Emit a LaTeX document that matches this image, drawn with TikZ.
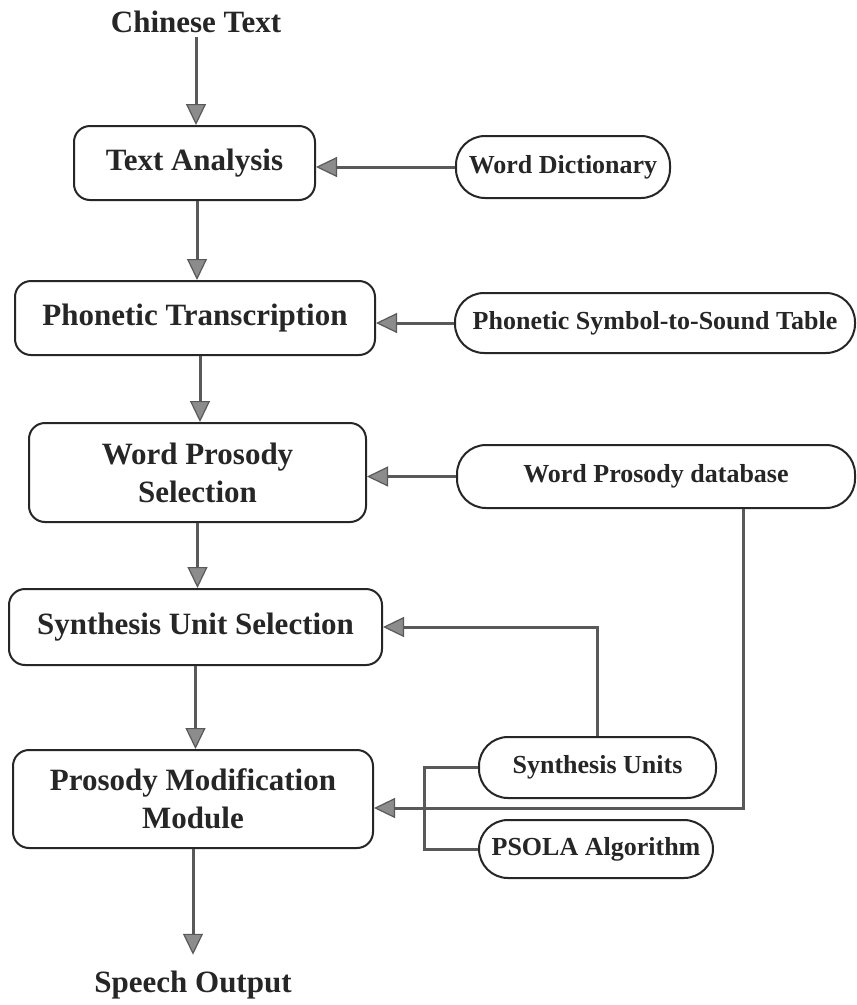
\documentclass[tikz,border=0pt]{standalone}
\usepackage{fontspec}
\setmainfont{Liberation Serif}
\usetikzlibrary{arrows.meta,calc}
\begin{document}
\begin{tikzpicture}[x=1pt,y=-1pt,
  box/.style={draw=black!85,line width=2pt,rounded corners=16pt,inner sep=0pt,
    font=\fontsize{31}{38}\selectfont\bfseries,align=center,text=black!85},
  pill/.style={draw=black!85,line width=2pt,rounded corners=29pt,inner sep=0pt,
    font=\fontsize{26}{30}\selectfont\bfseries,align=center,text=black!85},
  lbl/.style={inner sep=0pt,font=\fontsize{31}{38}\selectfont\bfseries,text=black!85},
  conn/.style={draw=black!65,line width=3pt},
  arr/.style={conn,-{Triangle[length=21pt,width=20pt,fill=black!45,line width=1.2pt]}}]
\useasboundingbox (0,0) rectangle (857,1005);
\fill[white] (0,0) rectangle (857,1005);

% main column
\node[lbl] (ct) at (196,22) {Chinese Text};
\node[box,minimum width=241pt,minimum height=74pt] (ta) at (194.5,163) {Text Analysis};
\node[box,minimum width=360pt,minimum height=74pt] (pt) at (195,318) {Phonetic Transcription};
\node[box,minimum width=337pt,minimum height=99pt] (wps) at (197.5,472.5) {Word Prosody\\Selection};
\node[box,minimum width=373pt,minimum height=76pt] (sus) at (195.5,627) {Synthesis Unit Selection};
\node[box,minimum width=360pt,minimum height=98pt] (pmm) at (193,799) {Prosody Modification\\Module};
\node[lbl] (so) at (193,985) {Speech Output};

% side resources
\node[pill,minimum width=214pt,minimum height=62pt] (wd) at (563,167) {Word Dictionary};
\node[pill,minimum width=400pt,minimum height=60pt] (pst) at (655,323) {Phonetic Symbol-to-Sound Table};
\node[pill,minimum width=398pt,minimum height=63pt] (wpd) at (656,476.5) {Word Prosody database};
\node[pill,minimum width=237pt,minimum height=61pt] (su) at (597.5,767.5) {Synthesis Units};
\node[pill,minimum width=234pt,minimum height=58pt] (ps) at (596,849) {PSOLA Algorithm};

% vertical flow
\draw[arr] ([yshift=-4pt]ct.south) -- (ct.south |- ta.north);
\draw[arr] ([xshift=2.5pt]ta.south) -- ([xshift=2.5pt]ta.south |- pt.north);
\draw[arr] ([xshift=5pt]pt.south) -- ([xshift=5pt]pt.south |- wps.north);
\draw[arr] (wps.south) -- (wps.south |- sus.north);
\draw[arr] (sus.south) -- (sus.south |- pmm.north);
\draw[arr] (pmm.south) -- ([yshift=16pt]so.north);

% side inputs
\draw[arr] (wd.west) -- (wd.west -| ta.east);
\draw[arr] (pst.west) -- (pst.west -| pt.east);
\draw[arr] (wpd.west) -- (wpd.west -| wps.east);
\draw[arr] (su.north) |- (sus.east);
\draw[arr] ([xshift=87pt]wpd.south) |- ([yshift=-9pt]pmm.east);
\draw[conn] (su.west) -- ++(-54,0) |- (ps.west);
\end{tikzpicture}
\end{document}
